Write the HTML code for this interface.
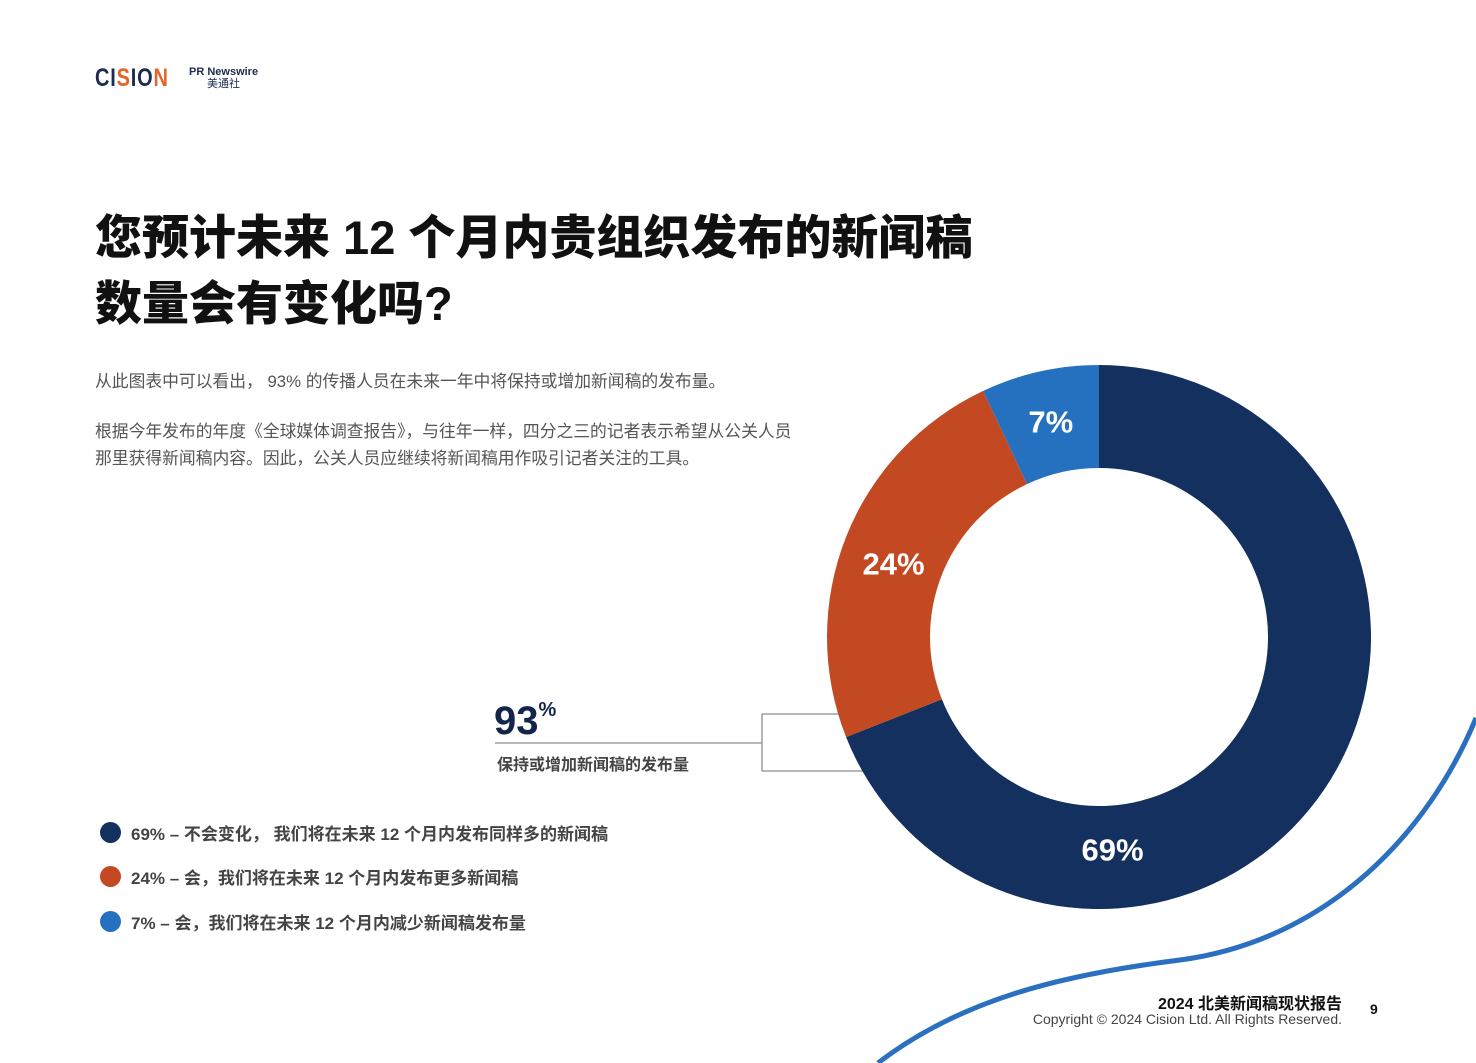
<!DOCTYPE html>
<html><head><meta charset="utf-8"><style>
body{margin:0;width:1476px;height:1063px;background:#fff;position:relative;overflow:hidden;font-family:"Liberation Sans","Noto Sans CJK SC",sans-serif;}
.abs{position:absolute;}
h1{position:absolute;left:95px;top:205px;margin:0;font-size:47px;line-height:66px;font-weight:900;color:#111;letter-spacing:0px;}
.p{position:absolute;left:95px;font-size:16.8px;color:#555;line-height:27px;}
.leg{position:absolute;left:100px;font-size:17px;font-weight:bold;color:#444;display:flex;align-items:center;}
.dot{width:21px;height:21px;border-radius:50%;margin-right:10px;}
</style></head><body>
<div class="abs" style="left:95px;top:64px;font-size:25px;font-weight:bold;letter-spacing:1px;font-family:'Liberation Sans Narrow','Liberation Sans',sans-serif;transform:scaleX(0.8);transform-origin:left;color:#1c2b4f">CI<span style="color:#e3652b">S</span>IO<span style="color:#e3652b">N</span></div>
<div class="abs" style="left:189px;top:66px;font-size:11px;font-weight:bold;color:#1c2b4f;line-height:12px;text-align:center">PR Newswire<br><span style="font-weight:normal">美通社</span></div>
<h1>您预计未来 12 个月内贵组织发布的新闻稿<br>数量会有变化吗?</h1>
<div class="p" style="top:368px">从此图表中可以看出， 93% 的传播人员在未来一年中将保持或增加新闻稿的发布量。</div>
<div class="p" style="top:418px">根据今年发布的年度《全球媒体调查报告》，与往年一样，四分之三的记者表示希望从公关人员<br>那里获得新闻稿内容。因此，公关人员应继续将新闻稿用作吸引记者关注的工具。</div>
<svg class="abs" style="left:0;top:0" width="1476" height="1063">
<path d="M878,1063 C960,1000 1060,975 1180,960 C1330,940 1430,830 1476,718" fill="none" stroke="#2b70c0" stroke-width="5"/>
<g stroke="#8a8d94" stroke-width="1.3" fill="none">
<line x1="495" y1="743" x2="762" y2="743"/><line x1="762" y1="714" x2="762" y2="771"/>
<line x1="762" y1="714" x2="870" y2="714"/><line x1="762" y1="771" x2="880" y2="771"/></g>
<g id="donut"></g>
<text x="494" y="734" font-size="40" font-weight="900" fill="#14254b" font-family="Liberation Sans">93<tspan font-size="20" dy="-18">%</tspan></text>
<text x="497" y="770" font-size="16" fill="#444" font-weight="bold">保持或增加新闻稿的发布量</text>
</svg>
<div class="leg" style="top:820px"><div class="dot" style="background:#13305e"></div>69% – 不会变化， 我们将在未来 12 个月内发布同样多的新闻稿</div>
<div class="leg" style="top:864px"><div class="dot" style="background:#c24922"></div>24% – 会，我们将在未来 12 个月内发布更多新闻稿</div>
<div class="leg" style="top:909px"><div class="dot" style="background:#2671bf"></div>7% – 会，我们将在未来 12 个月内减少新闻稿发布量</div>
<div class="abs" style="right:134px;top:990px;font-size:16px;font-weight:bold;color:#111">2024 北美新闻稿现状报告</div>
<div class="abs" style="right:134px;top:1011px;font-size:14px;color:#444">Copyright © 2024 Cision Ltd. All Rights Reserved.</div>
<div class="abs" style="left:1370px;top:1001px;font-size:14px;font-weight:bold;color:#111">9</div>
<script>
const categories=['不会变化','更多','减少'];
const values=[69,24,7];
const labels=['69%','24%','7%'];
const colors=['#13305e','#c24922','#2671bf'];
const cx=1099,cy=637,R=272,r=169;
const g=document.getElementById('donut');const ns='http://www.w3.org/2000/svg';
const total=values.reduce((a,b)=>a+b,0);let a0=0;
function pt(a,rad){return [cx+rad*Math.sin(a),cy-rad*Math.cos(a)];}
values.forEach((v,i)=>{
 const a1=a0+v/total*2*Math.PI;const lg=(a1-a0)>Math.PI?1:0;
 const p1=pt(a0,R),p2=pt(a1,R),p3=pt(a1,r),p4=pt(a0,r);
 const path=document.createElementNS(ns,'path');
 path.setAttribute('d',`M${p1}A${R},${R} 0 ${lg} 1 ${p2}L${p3}A${r},${r} 0 ${lg} 0 ${p4}Z`);
 path.setAttribute('fill',colors[i]);
 
 
 g.appendChild(path);
 let m=(a0+a1)/2;
 if(lg) m=a0+(a1-a0)*0.71;
 const lp=pt(m,i==0?213:221);
 const t=document.createElementNS(ns,'text');
 t.setAttribute('x',lp[0]);t.setAttribute('y',lp[1]+11+(i==1?8:0));
 t.setAttribute('text-anchor','middle');t.setAttribute('fill','#fff');
 t.setAttribute('font-size','31');t.setAttribute('font-weight','900');
 
 
 t.textContent=labels[i];g.appendChild(t);
 a0=a1;});
</script>
</body></html>
